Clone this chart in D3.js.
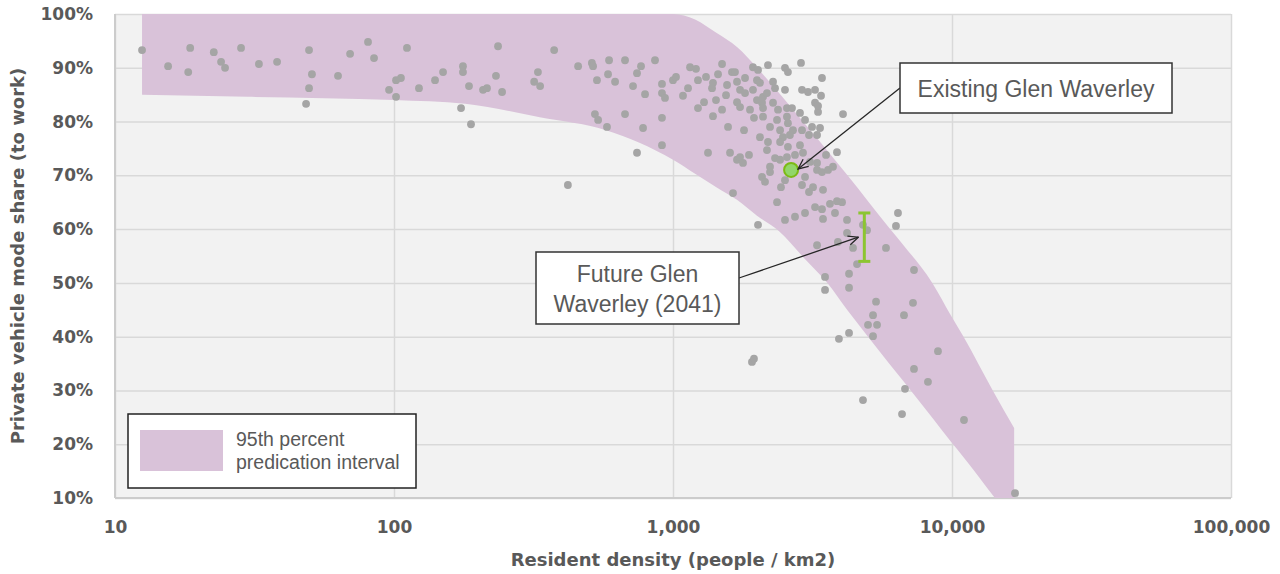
<!DOCTYPE html>
<html>
<head>
<meta charset="utf-8">
<script src="https://cdn.jsdelivr.net/npm/d3@7"></script>
<style>
  body { margin: 0; background: #fff; }
  svg text { font-family: "DejaVu Sans", sans-serif; }
  .tick-label { font-weight: bold; font-size: 17px; fill: #595959; }
  .axis-title { font-weight: bold; font-size: 18px; fill: #595959; }
  .note { font-family: "Liberation Sans", Arial, sans-serif !important; fill: #595959; }
</style>
</head>
<body>
<div id="chart"></div>
<script>
// axis ticks
const densityTicks = [10, 100, 1000, 10000, 100000];
const shareTicks = [10, 20, 30, 40, 50, 60, 70, 80, 90, 100];

// 95th percentile prediction interval
const bandDensity = [12.5, 30, 100, 180, 333, 575, 1000, 1200, 1430, 1700, 2000, 2400, 3000, 3600, 4220, 5000, 6000, 6700, 8500, 9900, 11000, 14000, 16700];
const bandUpper = [100, 100, 100, 100, 100, 100, 100, 99, 96.5, 93.8, 90, 85.3, 79.3, 74.4, 70, 65.2, 60, 57, 50, 44, 40, 30, 23];
const bandLower = [85, 84.6, 84, 83.3, 80.8, 78.4, 72.9, 70.3, 67.8, 65.4, 62.5, 59.6, 54.2, 49.8, 44.9, 40, 34.8, 31.7, 24.9, 20.5, 17.6, 10.5, 5.3];

// suburbs: resident density (people/km2) and private vehicle mode share (%)
const pointDensity = [
  12.5, 15.5, 18.3, 18.6, 22.6, 24.0, 24.8, 28.3, 32.8, 38.1,
  49.6, 50.8, 49.6, 48.4, 63.0, 69.6, 80.7, 84.8, 96.0, 101.7,
  105.9, 101.7, 111.3, 122.9, 140.3, 149.9, 173.9, 176.7, 176.7, 185.7,
  188.8, 208.5, 215.4, 232, 236, 244, 318, 328, 334, 375,
  420, 457, 512, 517, 534, 525, 539, 580, 590, 585,
  620, 673, 673, 719, 743, 768, 743, 781, 794, 862,
  913, 913, 936, 913, 913, 1000, 1025, 1086, 1132, 1151,
  1209, 1229, 1229, 1292, 1313, 1335, 1391, 1380, 1391, 1426,
  1450, 1499, 1499, 1549, 1562, 1575, 1601, 1627, 1668, 1641,
  1696, 1696, 1739, 1797, 1872,
  1935, 2017, 2190, 2520, 2582, 2876, 3420, 1696, 1812, 2000,
  2050, 2283, 2520, 2900, 3047, 3229, 3393, 1739, 1812, 1935,
  2102, 2172, 2321, 1888, 2000, 2085, 2102, 2283, 2379, 2561,
  2670, 3229, 3310, 4068, 1951, 2102, 2360, 2561, 2852, 2227,
  2420, 2582, 2692, 2973, 2900, 3150, 3365, 2050, 2479, 3072,
  3283, 1739, 1782, 2190, 2420, 2625, 2852, 2582, 2172, 2321,
  2420, 2561, 2737, 2924, 3098, 3283, 3536, 3870, 2227, 2227,
  3283, 3420, 3595, 3745, 2085, 2137, 2520, 2900, 2973, 3072,
  3176, 3449, 2438, 2360, 3229, 3420, 3653, 3870, 4035, 2973,
  2737, 2520, 3449, 3807, 4205, 2017, 3310, 4797, 4959, 6298,
  6403, 4205, 4418, 3900, 3283, 3507, 3507, 4275, 4275, 4567,
  5799, 7308, 5342, 5211, 5000, 5387, 5211, 7248, 6729, 4275,
  3933, 8907, 7308, 1919, 1951, 8200, 6785, 4797, 6620, 11040, 16820
];
const pointShare = [
  93.3, 90.3, 89.2, 93.7, 92.9, 91.1, 90.0, 93.7, 90.7, 91.1,
  93.3, 88.8, 86.2, 83.3, 88.5, 92.6, 94.8, 91.8, 85.9, 87.7,
  88.1, 84.6, 93.7, 86.2, 87.7, 89.2, 82.5, 90.3, 89.2, 86.6,
  79.5, 85.9, 86.2, 88.5, 94.0, 85.5, 87.4, 89.2, 86.6, 93.3,
  68.2, 90.3, 90.9, 90.3, 87.7, 81.4, 80.3, 79.0, 91.4, 88.8,
  87.4, 91.4, 81.4, 86.6, 89.0, 90.3, 74.2, 78.8, 85.1, 91.4,
  87.0, 85.3, 84.4, 80.7, 75.6, 87.7, 88.3, 84.8, 86.2, 90.1,
  89.8, 87.7, 82.5, 83.6, 88.3, 74.2, 87.2, 86.2, 81.0, 84.0,
  88.8, 90.7, 82.2, 84.9, 86.8, 79.0, 74.2, 89.2, 89.2, 66.7,
  72.9, 83.6, 82.7, 78.4, 73.8,
  90.1, 89.6, 90.5, 90.0, 89.2, 90.9, 88.1, 87.4, 88.1, 87.7,
  87.2, 87.4, 85.9, 85.9, 85.5, 85.9, 84.8, 85.9, 85.3, 85.9,
  84.6, 85.3, 86.2, 82.2, 84.0, 83.5, 82.5, 83.5, 82.2, 82.5,
  82.5, 83.5, 81.8, 81.4, 80.7, 80.9, 80.3, 80.9, 81.6, 79.0,
  78.4, 79.7, 78.4, 80.3, 78.4, 79.0, 78.8, 77.1, 77.1, 77.5,
  77.5, 73.4, 72.3, 76.2, 76.2, 77.5, 75.6, 75.3, 74.7, 73.2,
  72.9, 73.4, 73.8, 74.2, 72.5, 72.3, 73.8, 74.3, 71.6, 70.6,
  71.0, 70.6, 71.0, 71.6, 69.7, 68.8, 69.1, 68.2, 69.7, 66.9,
  67.8, 67.3, 67.8, 65.0, 64.1, 63.7, 64.7, 65.2, 65.0, 63.0,
  62.3, 61.7, 61.9, 63.0, 61.7, 60.8, 82.9, 60.8, 59.8, 60.6,
  63.0, 59.3, 56.5, 57.6, 57.0, 51.1, 48.7, 51.7, 49.1, 53.5,
  56.5, 52.4, 46.5, 44.0, 42.2, 42.2, 40.1, 46.3, 44.0, 40.7,
  39.6, 37.3, 34.0, 35.3, 35.9, 31.6, 30.3, 28.2, 25.6, 24.5, 10.9
];

// Glen Waverley
const existingDensity = 2650;
const existingShare = 71;
const futureDensity = 4850;
const futureShareRange = [54, 63];

const bandColor = '#d9c2d9';
const W = 1280, H = 574;
const margin = { top: 14, right: 49, bottom: 76, left: 115 };
const width = W - margin.left - margin.right;
const height = H - margin.top - margin.bottom;

const svg = d3.select('#chart').append('svg')
  .attr('width', W)
  .attr('height', H);

const defs = svg.append('defs');
defs.append('clipPath').attr('id', 'plot-clip')
  .append('rect').attr('width', width).attr('height', height);

defs.append('marker')
  .attr('id', 'arrow')
  .attr('viewBox', '0 0 12 12')
  .attr('refX', 11)
  .attr('refY', 6)
  .attr('markerWidth', 12)
  .attr('markerHeight', 12)
  .attr('markerUnits', 'userSpaceOnUse')
  .attr('orient', 'auto')
  .append('path')
  .attr('d', 'M1,1.5 L11,6 L1,10.5')
  .attr('fill', 'none')
  .attr('stroke', '#262626')
  .attr('stroke-width', 1.3);

const chart = svg.append('g')
  .attr('transform', `translate(${margin.left},${margin.top})`);

const x = d3.scaleLog().domain([10, 100000]).range([0, width]);
const y = d3.scaleLinear().domain([10, 100]).range([height, 0]);

chart.append('rect')
  .attr('width', width)
  .attr('height', height)
  .attr('fill', '#f2f2f2');

const yAxis = chart.append('g')
  .call(d3.axisLeft(y).tickValues(shareTicks).tickFormat(d => d + '%').tickSize(-width).tickPadding(22));
const xAxis = chart.append('g')
  .attr('transform', `translate(0,${height})`)
  .call(d3.axisBottom(x).tickValues(densityTicks).tickFormat(d3.format(',')).tickSize(-height).tickPadding(23));

[xAxis, yAxis].forEach(a => {
  a.select('.domain').remove();
  a.selectAll('.tick line').attr('stroke', '#d9d9d9').attr('stroke-width', 1.5);
  a.selectAll('.tick text').attr('class', 'tick-label');
});

// axis lines
chart.append('line').attr('x1', 0).attr('x2', 0).attr('y1', 0).attr('y2', height)
  .attr('stroke', '#cccccc').attr('stroke-width', 2);
chart.append('line').attr('x1', 0).attr('x2', width).attr('y1', height).attr('y2', height)
  .attr('stroke', '#cccccc').attr('stroke-width', 2);

// band
const band = bandDensity.map((d, i) => ({ d: d, hi: bandUpper[i], lo: bandLower[i] }));
const area = d3.area()
  .x(d => x(d.d))
  .y0(d => y(d.lo))
  .y1(d => y(d.hi))
  .curve(d3.curveMonotoneX);

chart.append('path')
  .datum(band)
  .attr('clip-path', 'url(#plot-clip)')
  .attr('d', area)
  .attr('fill', bandColor);

// points
const points = pointDensity.map((d, i) => ({ d: d, s: pointShare[i] }));
chart.selectAll('.dot')
  .data(points)
  .enter()
  .append('circle')
  .attr('class', 'dot')
  .attr('cx', d => x(d.d))
  .attr('cy', d => y(d.s))
  .attr('r', 3.9)
  .attr('fill', '#a5a5a5');

// existing Glen Waverley
const ex = x(existingDensity), ey = y(existingShare);
chart.append('circle')
  .attr('cx', ex)
  .attr('cy', ey)
  .attr('r', 7)
  .attr('fill', '#92d66a')
  .attr('stroke', '#7cba16')
  .attr('stroke-width', 2);

// future Glen Waverley range
const fx = x(futureDensity);
const fy0 = y(futureShareRange[0]), fy1 = y(futureShareRange[1]);
const eb = chart.append('g').attr('stroke', '#8cc531').attr('stroke-width', 3);
eb.append('line').attr('x1', fx).attr('x2', fx).attr('y1', fy0).attr('y2', fy1);
eb.append('line').attr('x1', fx - 6).attr('x2', fx + 6).attr('y1', fy0).attr('y2', fy0);
eb.append('line').attr('x1', fx - 6).attr('x2', fx + 6).attr('y1', fy1).attr('y2', fy1);

// annotations
function noteBox(bx, by, bw, bh, lines, baseline, lineGap) {
  svg.append('rect')
    .attr('x', bx).attr('y', by).attr('width', bw).attr('height', bh)
    .attr('fill', '#fff').attr('stroke', '#333').attr('stroke-width', 1.5);
  lines.forEach((t, i) => {
    svg.append('text')
      .attr('class', 'note')
      .attr('x', bx + bw / 2)
      .attr('y', baseline + i * lineGap)
      .attr('text-anchor', 'middle')
      .attr('font-size', 23)
      .text(t);
  });
}

svg.append('line')
  .attr('x1', 900).attr('y1', 88)
  .attr('x2', margin.left + ex + 7).attr('y2', margin.top + ey - 1)
  .attr('stroke', '#262626').attr('stroke-width', 1.3)
  .attr('marker-end', 'url(#arrow)');
noteBox(900, 63, 272, 50, ['Existing Glen Waverley'], 97, 0);

svg.append('line')
  .attr('x1', 739).attr('y1', 278)
  .attr('x2', margin.left + fx - 6).attr('y2', margin.top + (fy0 + fy1) / 2)
  .attr('stroke', '#262626').attr('stroke-width', 1.3)
  .attr('marker-end', 'url(#arrow)');
noteBox(536, 252, 203, 72, ['Future Glen', 'Waverley (2041)'], 282, 30);

// legend
svg.append('rect')
  .attr('x', 128).attr('y', 414).attr('width', 288).attr('height', 74)
  .attr('fill', '#fff').attr('stroke', '#222').attr('stroke-width', 1.5);
svg.append('rect')
  .attr('x', 140).attr('y', 430).attr('width', 83).attr('height', 41)
  .attr('fill', bandColor);
['95th percent', 'predication interval'].forEach((t, i) => {
  svg.append('text')
    .attr('class', 'note')
    .attr('x', 236)
    .attr('y', 446 + i * 23)
    .attr('font-size', 19.5)
    .text(t);
});

// axis titles
svg.append('text')
  .attr('class', 'axis-title')
  .attr('x', margin.left + width / 2)
  .attr('y', 566)
  .attr('text-anchor', 'middle')
  .text('Resident density (people / km2)');

svg.append('text')
  .attr('class', 'axis-title')
  .attr('transform', 'rotate(-90)')
  .attr('x', -(margin.top + height / 2))
  .attr('y', 24)
  .attr('text-anchor', 'middle')
  .text('Private vehicle mode share (to work)');
</script>
</body>
</html>
